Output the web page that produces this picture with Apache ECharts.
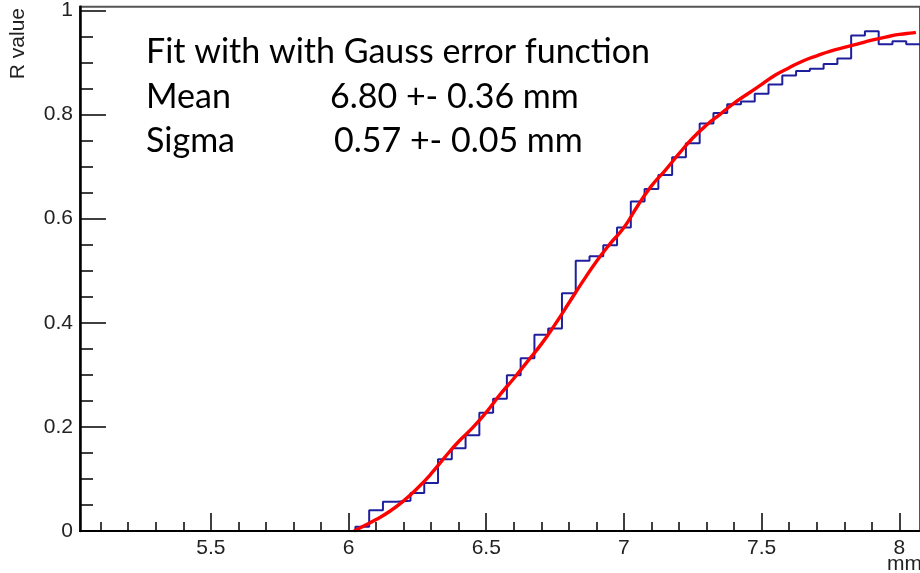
<!DOCTYPE html>
<html><head><meta charset="utf-8">
<script src="https://cdn.jsdelivr.net/npm/echarts@6/dist/echarts.min.js"></script>
<style>html,body{margin:0;padding:0;background:#fff}#c{width:920px;height:573px}</style>
</head><body><div id="c"></div>
<script>
// ---- data ----
const xMajorTicks = [5.5, 6, 6.5, 7, 7.5, 8];
const xMinorTicks = [5.1,5.2,5.3,5.4,5.6,5.7,5.8,5.9,6.1,6.2,6.3,6.4,6.6,6.7,6.8,6.9,7.1,7.2,7.3,7.4,7.6,7.7,7.8,7.9];
const yMajorTicks = [0, 0.2, 0.4, 0.6, 0.8, 1];
const yMinorTicks = [0.05,0.1,0.15,0.25,0.3,0.35,0.45,0.5,0.55,0.65,0.7,0.75,0.85,0.9,0.95];

// histogram: first bin low edge, bin width, bin contents
const histLow = 5.025;
const histBinWidth = 0.05;
const histValues = [
  0,0,0,0,0,0,0,0,0,0,
  0,0,0,0,0,0,0,0,0,0,
  0.008,0.040,0.056,0.058,0.073,0.092,0.138,0.159,0.184,0.227,
  0.254,0.299,0.332,0.377,0.389,0.457,0.519,0.528,0.549,0.583,
  0.633,0.657,0.684,0.718,0.745,0.783,0.803,0.820,0.825,0.840,
  0.858,0.875,0.884,0.888,0.897,0.908,0.952,0.960,0.935,0.941,
  0.935
];

// fitted Gauss error function curve
const fitX = [6.02,6.05,6.10,6.15,6.20,6.25,6.30,6.35,6.40,6.45,6.50,6.55,6.60,6.65,6.70,6.75,6.80,6.85,6.90,6.95,7.00,
              7.05,7.10,7.15,7.20,7.25,7.30,7.35,7.40,7.45,7.50,7.55,7.60,7.65,7.70,7.75,7.80,7.85,7.90,7.95,8.00,8.05,8.06];
const fitY = [0.000,0.008,0.022,0.038,0.058,0.082,0.110,0.142,0.172,0.198,0.228,0.262,0.293,0.326,0.359,0.397,0.438,0.479,0.518,0.552,0.583,
              0.625,0.663,0.693,0.725,0.755,0.780,0.801,0.822,0.840,0.858,0.876,0.890,0.903,0.913,0.922,0.929,0.936,0.943,0.949,0.954,0.957,0.958];

const xMin = 5.025, xMax = 8.075, yMin = 0, yMax = 1.007;
const infoLines = ['Fit with with Gauss error function'];
const infoLabels = ['Mean', 'Sigma'];
const infoValues = ['6.80 +- 0.36 mm', '0.57 +- 0.05 mm'];
const yTitle = 'R value';
const xTitle = 'mm';

// ---- build ----
const histData = histValues.map((v, k) => [histLow + k * histBinWidth, v]);
histData.push([histLow + histValues.length * histBinWidth, histValues[histValues.length - 1]]);
const fitData = fitX.map((x, i) => [x, fitY[i]]);

const labelFont = {fontFamily: 'Liberation Sans', fontSize: 21, color: '#222'};
const textFont = 'Lato';
const textSize = 34;

const chart = echarts.init(document.getElementById('c'), null, {renderer: 'canvas'});
chart.setOption({
  animation: false,
  backgroundColor: '#fff',
  grid: {left: 80, top: 6, width: 841, height: 525, show: true, borderColor: '#555', borderWidth: 2, backgroundColor: 'transparent'},
  xAxis: [
    {type: 'value', min: xMin, max: xMax, position: 'bottom', z: 10,
     axisLine: {show: true, onZero: false, lineStyle: {color: '#000', width: 2}},
     axisTick: {show: true, inside: true, length: 18, customValues: xMajorTicks, lineStyle: {color: '#000', width: 1.5}},
     axisLabel: Object.assign({show: true, margin: 7, customValues: xMajorTicks}, labelFont),
     splitLine: {show: false}},
    {type: 'value', min: xMin, max: xMax, position: 'bottom', z: 10,
     axisLine: {show: false},
     axisTick: {show: true, inside: true, length: 9, customValues: xMinorTicks, lineStyle: {color: '#000', width: 1.5}},
     axisLabel: {show: false}, splitLine: {show: false}}
  ],
  yAxis: [
    {type: 'value', min: yMin, max: yMax, position: 'left', z: 10,
     axisLine: {show: true, onZero: false, lineStyle: {color: '#000', width: 2.5}},
     axisTick: {show: true, inside: true, length: 26, customValues: yMajorTicks, lineStyle: {color: '#000', width: 1.5}},
     axisLabel: Object.assign({show: true, margin: 7, customValues: yMajorTicks}, labelFont),
     splitLine: {show: false}},
    {type: 'value', min: yMin, max: yMax, position: 'left', z: 10,
     axisLine: {show: false},
     axisTick: {show: true, inside: true, length: 13, customValues: yMinorTicks, lineStyle: {color: '#000', width: 1.5}},
     axisLabel: {show: false}, splitLine: {show: false}}
  ],
  series: [
    {type: 'line', xAxisIndex: 0, yAxisIndex: 0, data: histData, step: 'end', symbol: 'none',
     lineStyle: {color: '#1f1f9e', width: 2}, z: 2},
    {type: 'line', xAxisIndex: 0, yAxisIndex: 0, data: fitData, smooth: true, symbol: 'none',
     lineStyle: {color: '#ff0000', width: 3.4}, z: 3}
  ],
  graphic: [
    {type: 'text', x: 18, y: 8, rotation: Math.PI / 2,
     style: {text: yTitle, font: '21px "Liberation Sans"', fill: '#222', align: 'right', verticalAlign: 'middle', textAlign: 'right', textVerticalAlign: 'middle'}},
    {type: 'text', x: 922, y: 564,
     style: {text: xTitle, font: '21px "Liberation Sans"', fill: '#222', align: 'right', verticalAlign: 'middle', textAlign: 'right', textVerticalAlign: 'middle'}},
    {type: 'text', x: 146, y: 52,
     style: {text: infoLines[0], font: textSize + 'px ' + textFont, fill: '#000', verticalAlign: 'middle', textVerticalAlign: 'middle'}},
    {type: 'text', x: 146, y: 97,
     style: {text: infoLabels[0], font: textSize + 'px ' + textFont, fill: '#000', verticalAlign: 'middle', textVerticalAlign: 'middle'}},
    {type: 'text', x: 330, y: 97,
     style: {text: infoValues[0], font: textSize + 'px ' + textFont, fill: '#000', verticalAlign: 'middle', textVerticalAlign: 'middle'}},
    {type: 'text', x: 146, y: 141,
     style: {text: infoLabels[1], font: textSize + 'px ' + textFont, fill: '#000', verticalAlign: 'middle', textVerticalAlign: 'middle'}},
    {type: 'text', x: 334, y: 141,
     style: {text: infoValues[1], font: textSize + 'px ' + textFont, fill: '#000', verticalAlign: 'middle', textVerticalAlign: 'middle'}}
  ]
});
</script>
</body></html>
